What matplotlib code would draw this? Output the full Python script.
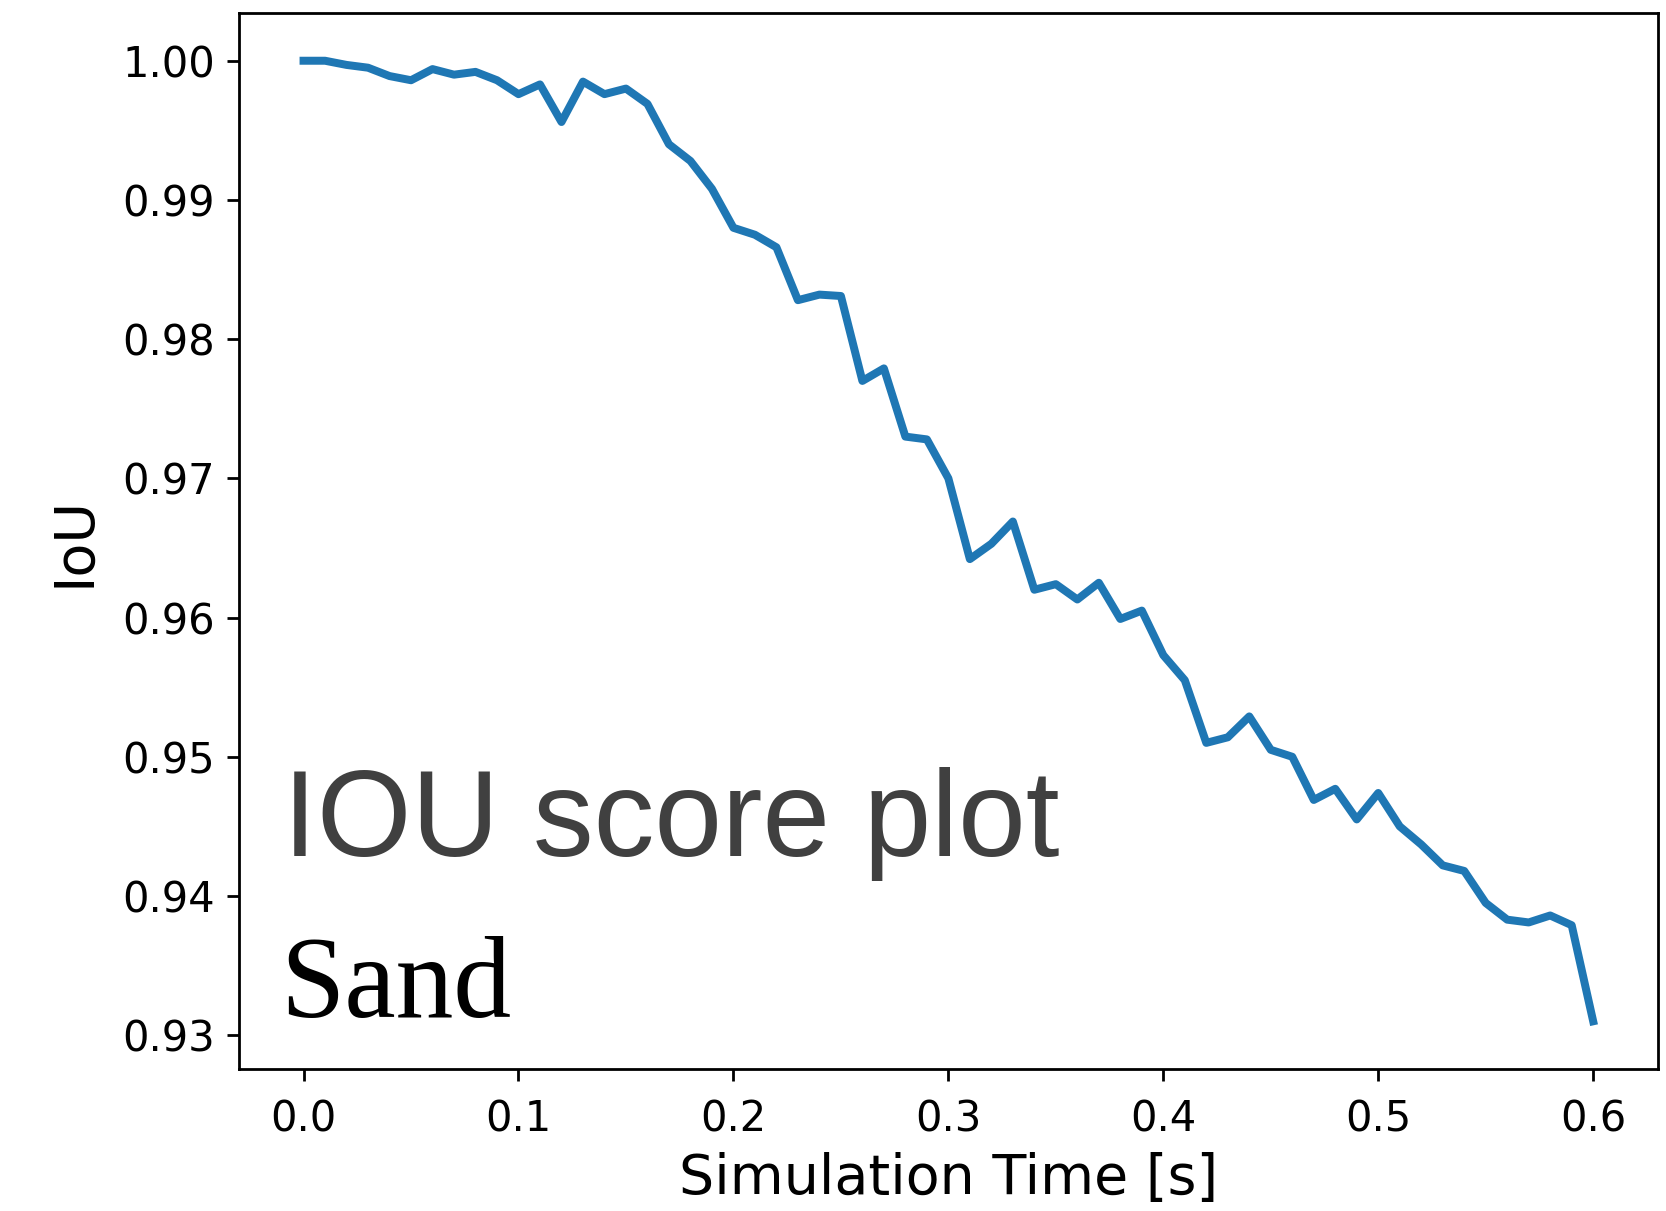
import matplotlib
matplotlib.use("Agg")
import matplotlib.pyplot as plt
import numpy as np

# simulation time steps [s]
time = np.round(np.arange(0, 61) * 0.01, 2)

# IoU per time step
iou = [1.0000, 1.0000, 0.9997, 0.9995, 0.9989, 0.9986, 0.9994, 0.9990, 0.9992, 0.9986,
       0.9976, 0.9983, 0.9956, 0.9985, 0.9976, 0.9980, 0.9969, 0.9940, 0.9928, 0.9908,
       0.9880, 0.9875, 0.9866, 0.9828, 0.9832, 0.9831, 0.9770, 0.9779, 0.9730, 0.9728,
       0.9700, 0.9642, 0.9653, 0.9669, 0.9620, 0.9624, 0.9613, 0.9625, 0.9599, 0.9605,
       0.9573, 0.9555, 0.9510, 0.9514, 0.9529, 0.9505, 0.9500, 0.9469, 0.9477, 0.9455,
       0.9474, 0.9450, 0.9437, 0.9422, 0.9418, 0.9395, 0.9383, 0.9381, 0.9386, 0.9379,
       0.9310]

W, H, DPI = 1666, 1211, 250
fig = plt.figure(figsize=(W / DPI, H / DPI), dpi=DPI)
ax = fig.add_axes([0.1435, 0.117, 0.8515, 0.8725])

ax.plot(time, iou, color="#1f77b4", linewidth=2.3)
ax.set_xlabel("Simulation Time [s]", fontsize=16, labelpad=3.5)
ax.set_ylabel("IoU", fontsize=16, labelpad=6)
ax.tick_params(labelsize=12)
ax.tick_params(axis="x", pad=4.8)
ax.set_yticks([0.93, 0.94, 0.95, 0.96, 0.97, 0.98, 0.99, 1.00])

# annotations in the lower left
fig.text(283 / W, 1 - 856 / H, "IOU score plot", fontsize=35, color="#404040",
         family="Liberation Sans", ha="left", va="baseline")
fig.text(280 / W, 1 - 1017 / H, "Sand", fontsize=33.3, color="black",
         family="Liberation Serif", ha="left", va="baseline")

fig.savefig("out.png", dpi=DPI)
